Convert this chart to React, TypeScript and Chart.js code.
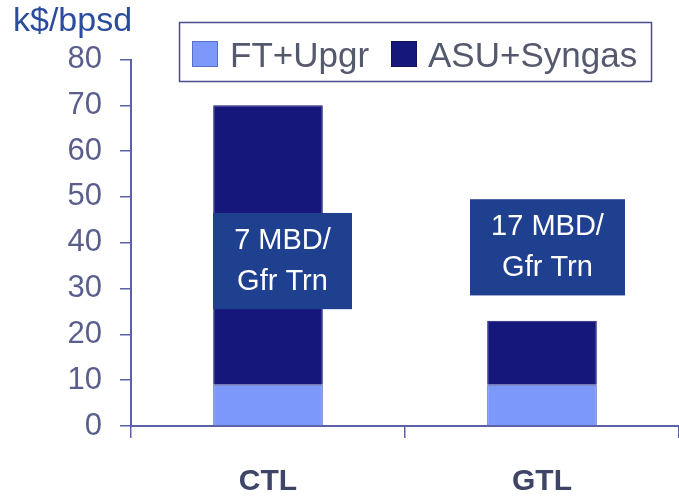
import React, { useEffect, useRef } from "react";
import { Chart, registerables } from "chart.js";

Chart.register(...registerables);

const categories = ["CTL", "GTL"];
const ftUpgr = [9, 9];
const asuSyngas = [61, 14];
const yTicks = [0, 10, 20, 30, 40, 50, 60, 70, 80];
const seriesNames = ["FT+Upgr", "ASU+Syngas"];
const seriesColors = ["#7b98fa", "#15187a"];
const unitLabel = "k$/bpsd";
const noteLines = [
  ["7 MBD/", "Gfr Trn"],
  ["17 MBD/", "Gfr Trn"],
];
const noteTop = [46.5, 49.5];
const noteBottom = [25.5, 28.5];
const noteLeftOff = [-55, -72];
const noteRightOff = [84, 83];

const AXIS = "#5b60a8";
const FONT = "'Liberation Sans', Arial, sans-serif";

const overlayPlugin = {
  id: "overlay",
  afterDatasetsDraw(chart: any) {
    const ctx = chart.ctx;
    const xs = chart.scales.x;
    const ys = chart.scales.y;
    ctx.save();
    // annotation boxes
    noteLines.forEach((lines, i) => {
      const cx = xs.getPixelForValue(i);
      const l = cx + noteLeftOff[i];
      const r = cx + noteRightOff[i];
      const t = ys.getPixelForValue(noteTop[i]);
      const b = ys.getPixelForValue(noteBottom[i]);
      ctx.fillStyle = "#1f3f8f";
      ctx.fillRect(l, t, r - l, b - t);
      ctx.fillStyle = "#ffffff";
      ctx.font = `29px ${FONT}`;
      ctx.textAlign = "center";
      ctx.textBaseline = "middle";
      const mx = (l + r) / 2;
      const my = (t + b) / 2;
      ctx.fillText(lines[0], mx, my - 20.5);
      ctx.fillText(lines[1], mx, my + 20.5);
    });
    ctx.restore();
  },
  afterDraw(chart: any) {
    const ctx = chart.ctx;
    ctx.save();
    // unit title
    ctx.fillStyle = "#2b4c9c";
    ctx.font = `34px ${FONT}`;
    ctx.textAlign = "left";
    ctx.textBaseline = "alphabetic";
    ctx.fillText(unitLabel, 13, 31);
    // legend box
    ctx.strokeStyle = "#4a4e8a";
    ctx.lineWidth = 1.5;
    ctx.strokeRect(179.5, 22.5, 472, 59);
    const sw = [192, 391];
    const tx = [230, 428];
    ctx.font = `35px ${FONT}`;
    seriesNames.forEach((n, i) => {
      ctx.fillStyle = seriesColors[i];
      ctx.fillRect(sw[i], 41, 26, 26);
      ctx.strokeStyle = i === 0 ? "#5a6fc8" : "#10125a";
      ctx.lineWidth = 1;
      ctx.strokeRect(sw[i] + 0.5, 41.5, 25, 25);
      ctx.fillStyle = "#55596e";
      ctx.fillText(n, tx[i], 66.5);
    });
    ctx.restore();
  },
};

export default function App() {
  const ref = useRef<HTMLCanvasElement>(null);
  useEffect(() => {
    const chart = new Chart(ref.current as HTMLCanvasElement, {
      type: "bar",
      data: {
        labels: categories,
        datasets: [
          {
            label: seriesNames[0],
            data: ftUpgr,
            backgroundColor: seriesColors[0],
            borderColor: "#4a5bb5",
            borderWidth: 1,
            barPercentage: 0.4,
            categoryPercentage: 1,
          },
          {
            label: seriesNames[1],
            data: asuSyngas,
            backgroundColor: seriesColors[1],
            borderColor: "#14176e",
            borderWidth: 1,
            barPercentage: 0.4,
            categoryPercentage: 1,
          },
        ],
      },
      options: {
        animation: false,
        responsive: false,
        maintainAspectRatio: false,
        layout: { padding: { top: 59.5, left: 0, right: 0, bottom: 0 } },
        plugins: {
          legend: { display: false },
          title: { display: false },
          tooltip: { enabled: false },
        },
        scales: {
          x: {
            stacked: true,
            border: { display: true, color: AXIS, width: 2 },
            grid: {
              display: true,
              offset: true,
              drawOnChartArea: false,
              drawTicks: true,
              tickLength: 12,
              color: AXIS,
              lineWidth: 1.5,
            },
            ticks: {
              color: "#3f4566",
              font: { family: FONT, size: 30, weight: "bold" },
              padding: 26,
              maxRotation: 0,
            },
            afterFit: (s: any) => {
              s.height = 73;
            },
          },
          y: {
            stacked: true,
            min: 0,
            max: 80,
            afterBuildTicks: (s: any) => {
              s.ticks = yTicks.map((v) => ({ value: v }));
            },
            border: { display: true, color: AXIS, width: 2 },
            grid: {
              display: true,
              drawOnChartArea: false,
              drawTicks: true,
              tickLength: 11,
              color: AXIS,
              lineWidth: 1.5,
            },
            ticks: {
              color: "#5a5e8c",
              font: { family: FONT, size: 31 },
              padding: 18,
            },
            afterFit: (s: any) => {
              s.width = 131;
            },
          },
        },
      },
      plugins: [overlayPlugin],
    });
    return () => chart.destroy();
  }, []);
  return (
    <div style={{ position: "fixed", left: 0, top: 0, width: 679, height: 499, background: "#fff" }}>
      <canvas ref={ref} width={679} height={499} style={{ width: 679, height: 499, display: "block" }} />
    </div>
  );
}
